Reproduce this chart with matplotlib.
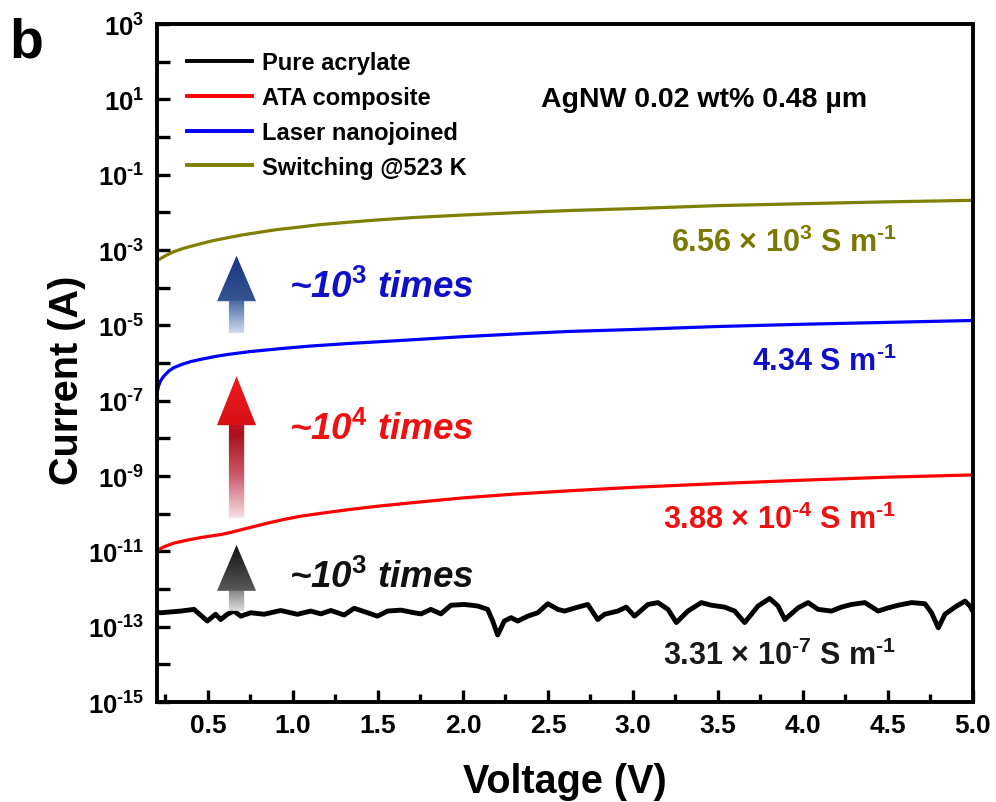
import numpy as np
import matplotlib
matplotlib.use('Agg')
import matplotlib.pyplot as plt
from matplotlib.colors import LinearSegmentedColormap
from matplotlib.patches import Polygon
from matplotlib.ticker import NullLocator

plt.rcParams['font.family'] = ['Liberation Sans', 'DejaVu Sans']
plt.rcParams['font.weight'] = 'bold'
plt.rcParams['mathtext.fontset'] = 'custom'
plt.rcParams['mathtext.rm'] = 'Liberation Sans:bold'
plt.rcParams['mathtext.bf'] = 'Liberation Sans:bold'
plt.rcParams['mathtext.it'] = 'Liberation Sans:italic:bold'

HY = '\u2010'  # short hyphen for exponents, as in the reference

# values, currents stored as log10(I / A)
pure_v = [0.20, 0.222, 0.339, 0.418, 0.496, 0.545, 0.575, 0.614, 0.653, 0.693, 0.752,
          0.830, 0.928, 1.026, 1.105, 1.164, 1.223, 1.301, 1.360, 1.439, 1.497, 1.556,
          1.635, 1.713, 1.753, 1.811, 1.870, 1.929, 2.008, 2.086, 2.145, 2.175, 2.204,
          2.243, 2.283, 2.322, 2.381, 2.440, 2.499, 2.558, 2.597, 2.676, 2.734, 2.793,
          2.833, 2.911, 2.960, 3.009, 3.088, 3.147, 3.206, 3.255, 3.323, 3.402, 3.461,
          3.539, 3.598, 3.657, 3.736, 3.804, 3.853, 3.893, 3.971, 4.030, 4.089, 4.167,
          4.226, 4.285, 4.364, 4.442, 4.501, 4.560, 4.639, 4.717, 4.756, 4.796, 4.835,
          4.894, 4.953, 4.982, 5.0]
pure_log = [-12.62, -12.63, -12.585, -12.54, -12.85, -12.67, -12.81, -12.67, -12.585, -12.72, -12.63,
            -12.67, -12.57, -12.67, -12.585, -12.66, -12.57, -12.69, -12.51, -12.63, -12.72, -12.585,
            -12.56, -12.63, -12.66, -12.54, -12.66, -12.43, -12.41, -12.45, -12.54, -12.85, -13.22,
            -12.85, -12.76, -12.85, -12.72, -12.63, -12.39, -12.54, -12.585, -12.48, -12.41, -12.81,
            -12.67, -12.585, -12.48, -12.72, -12.41, -12.36, -12.54, -12.89, -12.585, -12.36, -12.43,
            -12.48, -12.585, -12.89, -12.45, -12.25, -12.45, -12.81, -12.50, -12.36, -12.54, -12.585,
            -12.48, -12.41, -12.36, -12.585, -12.50, -12.43, -12.36, -12.39, -12.63, -13.03, -12.67,
            -12.48, -12.32, -12.45, -12.6]

ata_v = [0.20, 0.24, 0.30, 0.38, 0.45, 0.52, 0.58, 0.64, 0.70, 0.78, 0.86, 0.95, 1.04,
         1.18, 1.33, 1.5, 1.72, 2.0, 2.3, 2.63, 3.0, 3.5, 4.0, 4.5, 5.0]
ata_log = [-10.98, -10.88, -10.78, -10.70, -10.64, -10.59, -10.55, -10.49, -10.42, -10.33,
           -10.24, -10.15, -10.07, -9.98, -9.89, -9.80, -9.70, -9.58, -9.48, -9.39, -9.30,
           -9.20, -9.11, -9.03, -8.97]

laser_v = [0.20, 0.21, 0.22, 0.24, 0.27, 0.30, 0.35, 0.40, 0.47, 0.55, 0.62, 0.74, 0.92,
           1.1, 1.33, 1.6, 2.0, 2.39, 2.63, 3.0, 3.5, 4.0, 4.5, 5.0]
laser_log = [-6.80, -6.60, -6.48, -6.35, -6.21, -6.12, -6.03, -5.96, -5.89, -5.82, -5.77,
             -5.70, -5.62, -5.55, -5.48, -5.41, -5.30, -5.21, -5.16, -5.11, -5.03, -4.97,
             -4.92, -4.87]

switch_v = [0.20, 0.25, 0.30, 0.36, 0.45, 0.53, 0.62, 0.70, 0.80, 0.90, 1.0, 1.15, 1.33,
            1.5, 1.7, 2.0, 2.3, 2.63, 3.0, 3.5, 4.0, 4.5, 5.0]
switch_log = [-3.28, -3.15, -3.04, -2.95, -2.84, -2.75, -2.67, -2.60, -2.53, -2.46, -2.41,
              -2.33, -2.26, -2.20, -2.14, -2.07, -2.01, -1.95, -1.90, -1.82, -1.77, -1.72,
              -1.68]

labels = ['Pure acrylate', 'ATA composite', 'Laser nanojoined', 'Switching @523 K']
colors = ['black', '#ff0000', '#0000ff', '#808000']
widths = [3.5, 2.3, 2.3, 2.3]

sigma_text = ['3.31 × 10$^{%s7}$ S m$^{%s1}$' % (HY, HY), '3.88 × 10$^{%s4}$ S m$^{%s1}$' % (HY, HY),
              '4.34 S m$^{%s1}$' % HY, '6.56 × 10$^{3}$ S m$^{%s1}$' % HY]
sigma_log = [-13.77, -10.14, -5.95, -2.80]
sigma_colors = ['#1a1a1a', '#ee1111', '#1010c8', '#7a7a00']

ratio_text = ['~10$^{\\mathit{3}}$ times', '~10$^{\\mathit{4}}$ times', '~10$^{\\mathit{3}}$ times']
ratio_log = [-11.68, -7.76, -3.97]
ratio_colors = ['#111111', '#ee1111', '#1010c8']

# arrows: bottom, head base, tip (log10 units)
arrow_y = [(-12.58, -12.05, -10.83), (-10.11, -7.65, -6.35), (-5.21, -4.36, -3.15)]
arrow_stops = [
    [(0, '#dcdcdc'), (0.30, '#8a8a8a'), (0.31, '#5a5a5a'), (1, '#101010')],
    [(0, '#f8e0e6'), (0.30, '#cc5a6a'), (0.58, '#a8141e'), (0.654, '#c01020'),
     (0.66, '#d81018'), (1, '#ee1c1c')],
    [(0, '#d0dcf0'), (0.41, '#4a6aa2'), (0.42, '#34548f'), (1, '#1a3585')],
]

fig = plt.figure(figsize=(9.96, 8.03), dpi=100)
ax = fig.add_axes([0.1576, 0.1245, 0.8193, 0.8443])

series = [(pure_v, pure_log), (ata_v, ata_log), (laser_v, laser_log), (switch_v, switch_log)]
for (v, lg), lab, c, w in zip(series, labels, colors, widths):
    ax.plot(v, 10 ** np.array(lg), color=c, lw=w, label=lab, solid_joinstyle='round')

ax.set_yscale('log')
ax.set_xlim(0.2, 5.0)
ax.set_ylim(1e-15, 1e3)
exps = np.arange(-15, 4)
ax.set_yticks(10.0 ** exps,
              ['$10^{%s}$' % (str(e).replace('-', HY)) if e % 2 else '' for e in exps])
ax.yaxis.set_minor_locator(NullLocator())
ax.set_xticks(np.arange(0.5, 5.01, 0.5), ['%.1f' % t for t in np.arange(0.5, 5.01, 0.5)])
ax.set_xticks(np.arange(0.25, 5.0, 0.5), minor=True)
ax.tick_params(which='major', direction='in', length=9, width=2.4, labelsize=19, pad=8)
ax.tick_params(axis='y', labelsize=18.5, pad=9)
ax.tick_params(which='minor', direction='in', length=5.5, width=2.4)
for s in ax.spines.values():
    s.set_linewidth(2.8)

leg = ax.legend(loc='upper left', bbox_to_anchor=(0.037, 0.96), frameon=False, fontsize=17,
                handlelength=2.75, handletextpad=0.4, labelspacing=0.5, borderpad=0,
                borderaxespad=0)
for h in leg.get_lines():
    h.set_linewidth(2.8)

ax.text(2.461, 10 ** 1.01, 'AgNW 0.02 wt% 0.48 µm', fontsize=20.5, va='center', ha='left')
for t, lg, c in zip(sigma_text, sigma_log, sigma_colors):
    ax.text(4.552, 10 ** lg, t, color=c, fontsize=22, ha='right', va='center')
for t, lg, c in zip(ratio_text, ratio_log, ratio_colors):
    ax.text(0.977, 10 ** lg, t, color=c, fontsize=26.5, style='italic', ha='left', va='center')

# gradient arrows on a linear overlay in log10 units
ov = fig.add_axes(ax.get_position(), facecolor='none')
grad = np.linspace(0, 1, 256).reshape(-1, 1)
xc, hw, sw = 0.668, 0.115, 0.045
for (y0, yh, y1), stops in zip(arrow_y, arrow_stops):
    verts = [(xc - sw, y0), (xc + sw, y0), (xc + sw, yh), (xc + hw, yh), (xc, y1),
             (xc - hw, yh), (xc - sw, yh)]
    poly = Polygon(verts, closed=True, facecolor='none', edgecolor='none')
    ov.add_patch(poly)
    cmap = LinearSegmentedColormap.from_list('g', stops)
    im = ov.imshow(grad, cmap=cmap, origin='lower', aspect='auto',
                   extent=[xc - hw, xc + hw, y0, y1], interpolation='bilinear')
    im.set_clip_path(poly)
ov.set_xlim(0.2, 5.0)
ov.set_ylim(-15, 3)
ov.axis('off')

fig.text(67 / 996, 1 - 380 / 803, 'Current (A)', rotation=90, fontsize=28.5, ha='center', va='center')
fig.text(565 / 996, 1 - 793 / 803, 'Voltage (V)', fontsize=28.5, ha='center', va='baseline')
fig.text(26 / 996, 1 - 43 / 803, 'b', fontsize=40, ha='center', va='center')

fig.savefig('out.png', dpi=100)
